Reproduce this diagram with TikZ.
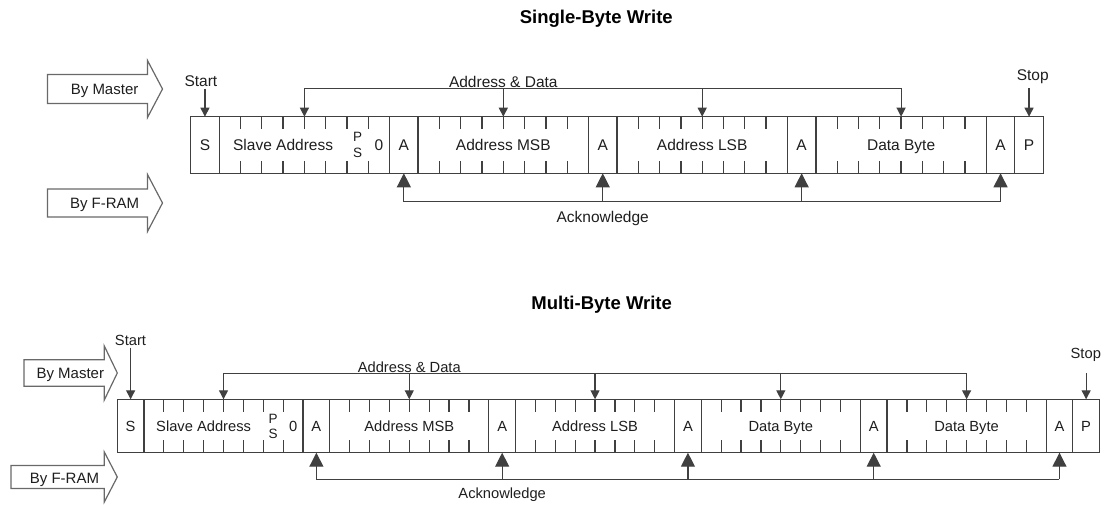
\documentclass[tikz,border=0pt]{standalone}
\usepackage{fontspec}
\setmainfont{Liberation Sans}
\usetikzlibrary{positioning, arrows.meta, calc}
\definecolor{linegray}{RGB}{64,64,64}
\definecolor{arrowgray}{RGB}{105,105,105}
\definecolor{textgray}{RGB}{30,30,30}

% seven short bit marks, top and bottom, inside a byte field
\newcommand{\byteticks}[1]{%
  \foreach \k in {1,...,7}
    \draw[tick] ($(#1.north west)+(\k*\bitw,0)$) -- ++(0,\tickl)
                ($(#1.south west)+(\k*\bitw,0)$) -- ++(0,-\tickl);}
% hollow block arrow: left, head start, tip, centre, body half, head half
\newcommand{\sidearrow}[6]{%
  \draw[sidearr] (#1,#4-#5) -- (#2,#4-#5) -- (#2,#4-#6) -- (#3,#4)
    -- (#2,#4+#6) -- (#2,#4+#5) -- (#1,#4+#5) -- cycle;}

\tikzset{
  frame/.style={draw=linegray, line width=1.3pt, inner sep=0pt, outer sep=0pt,
                minimum height=\rowh*1pt, text=textgray,
                text height=\caph*1pt, text depth=0pt},
  onecell/.style={frame, minimum width=\cellw*1pt},
  bytecell/.style={frame, minimum width=8*\bitw*1pt},
  tick/.style={draw=linegray, line width=1.3pt},
  bus/.style={draw=linegray, line width=1.2pt},
  down/.style={bus, -{Triangle[width=9pt,length=9pt]}},
  up/.style={bus, -{Triangle[width=14pt,length=14pt]}},
  lbl/.style={inner sep=2pt, text=textgray, text height=\caph*1pt, text depth=0pt},
  bitlbl/.style={inner sep=0pt, text=textgray, font=\fontsize{13.5}{14}\selectfont},
  sidearr/.style={draw=arrowgray, line width=1.2pt, fill=white, line join=miter},
  sidetxt/.style={lbl, font=\fontsize{15}{18}\selectfont},
  title/.style={font=\fontsize{18.5}{20}\selectfont\bfseries, text=black},
}

\begin{document}
\begin{tikzpicture}[x=1pt, y=-1pt]
  \useasboundingbox (0,0) rectangle (1106,504);

  % Single-byte write
  \node[title] (ttitle) at (596.3,18.3) {Single-Byte Write};
  \begin{scope}[font=\fontsize{15.5}{18}\selectfont]
    \def\bitw{21.3}\def\cellw{28.5}\def\rowh{56.6}\def\tickl{12.6}\def\caph{11.2}
    \node[onecell, anchor=north west] (ts) at (190.7,116.7) {S};
    \node[bytecell, right=0pt of ts] (tslave) {};
    \node[onecell, right=0pt of tslave] (ta1) {A};
    \node[bytecell, right=0pt of ta1] (tmsb) {Address MSB};
    \node[onecell, right=0pt of tmsb] (ta2) {A};
    \node[bytecell, right=0pt of ta2] (tlsb) {Address LSB};
    \node[onecell, right=0pt of tlsb] (ta3) {A};
    \node[bytecell, right=0pt of ta3] (tdata) {Data Byte};
    \node[onecell, right=0pt of tdata] (ta4) {A};
    \node[onecell, right=0pt of ta4] (tp) {P};
    \foreach \f in {tslave, tmsb, tlsb, tdata} {\byteticks{\f}}
    \node[lbl, inner sep=0pt] (tslavetxt) at ($(tslave.west)+(3*\bitw,0)$) {Slave Address};
    \node[bitlbl] (tpbit) at ($(tslave.west)+(6.5*\bitw,-7.8)$) {P};
    \node[bitlbl] (tsbit) at ($(tslave.west)+(6.5*\bitw,7.8)$) {S};
    \node[lbl, inner sep=0pt] (tzero) at ($(tslave.west)+(7.5*\bitw,0)$) {0};

    \coordinate (tbus) at (0,88.3);
    \coordinate (tack) at (0,201.7);
    \draw[bus] (tslave |- tbus) -- (tdata |- tbus);
    \foreach \f in {tslave, tmsb, tlsb, tdata}
      \draw[down] (\f |- tbus) -- (\f.north);
    \node[lbl, above, inner sep=1pt] (taddr) at (tmsb |- tbus) {Address \& Data};
    \draw[bus] (ta1 |- tack) -- (ta4 |- tack);
    \foreach \f in {ta1, ta2, ta3, ta4}
      \draw[up] (\f |- tack) -- (\f.south);
    \node[lbl, below=7pt] (tacklbl) at (ta2 |- tack) {Acknowledge};

    \node[lbl] (tstart) at (200.9,80.7) {Start};
    \draw[down] (tstart.south -| ts) -- (ts.north);
    \node[lbl] (tstop) at (1032.7,75) {Stop};
    \draw[down] (tp |- tbus) -- (tp.north);

    \sidearrow{47.5}{147.5}{162.5}{89}{14.5}{28.5}
    \node[sidetxt] (tmaster) at (104.6,89) {By Master};
    \sidearrow{47.5}{147.5}{162.5}{203}{14}{28.5}
    \node[sidetxt] (tfram) at (104.6,203) {By F-RAM};
  \end{scope}

  % Multi-byte write
  \node[title] (btitle) at (601.7,305) {Multi-Byte Write};
  \begin{scope}[font=\fontsize{14.7}{17}\selectfont]
    \def\bitw{19.89}\def\cellw{26.65}\def\rowh{53.4}\def\tickl{12.4}\def\caph{10.7}
    \node[onecell, anchor=north west] (bs) at (117.3,399.3) {S};
    \node[bytecell, right=0pt of bs] (bslave) {};
    \node[onecell, right=0pt of bslave] (ba1) {A};
    \node[bytecell, right=0pt of ba1] (bmsb) {Address MSB};
    \node[onecell, right=0pt of bmsb] (ba2) {A};
    \node[bytecell, right=0pt of ba2] (blsb) {Address LSB};
    \node[onecell, right=0pt of blsb] (ba3) {A};
    \node[bytecell, right=0pt of ba3] (bdata) {Data Byte};
    \node[onecell, right=0pt of bdata] (ba4) {A};
    \node[bytecell, right=0pt of ba4] (bdatb) {Data Byte};
    \node[onecell, right=0pt of bdatb] (ba5) {A};
    \node[onecell, right=0pt of ba5] (bp) {P};
    \foreach \f in {bslave, bmsb, blsb, bdata, bdatb} {\byteticks{\f}}
    \node[lbl, inner sep=0pt] (bslavetxt) at ($(bslave.west)+(3*\bitw,0)$) {Slave Address};
    \node[bitlbl] (bpbit) at ($(bslave.west)+(6.5*\bitw,-7.4)$) {P};
    \node[bitlbl] (bsbit) at ($(bslave.west)+(6.5*\bitw,7.4)$) {S};
    \node[lbl, inner sep=0pt] (bzero) at ($(bslave.west)+(7.5*\bitw,0)$) {0};

    \coordinate (bbus) at (0,373.3);
    \coordinate (back) at (0,479.3);
    \draw[bus] (bslave |- bbus) -- (bdatb |- bbus);
    \foreach \f in {bslave, bmsb, blsb, bdata, bdatb}
      \draw[down] (\f |- bbus) -- (\f.north);
    \node[lbl, above, inner sep=1pt] (baddr) at (bmsb |- bbus) {Address \& Data};
    \draw[bus] (ba1 |- back) -- (ba5 |- back);
    \foreach \f in {ba1, ba2, ba3, ba4, ba5}
      \draw[up] (\f |- back) -- (\f.south);
    \node[lbl, below=6.5pt] (backlbl) at (ba2 |- back) {Acknowledge};

    \node[lbl] (bstart) at (130.5,340) {Start};
    \draw[down] (bstart.south -| bs) -- (bs.north);
    \node[lbl] (bstop) at (1085.8,352.7) {Stop};
    \draw[down] (bp |- bbus) -- (bp.north);

    \sidearrow{24}{104.3}{117.3}{373}{13.3}{27}
    \node[sidetxt] (bmaster) at (70.3,373) {By Master};
    \sidearrow{11}{104.3}{117.3}{477}{11.5}{25}
    \node[sidetxt] (bfram) at (64.5,478) {By F-RAM};
  \end{scope}
\end{tikzpicture}
\end{document}
